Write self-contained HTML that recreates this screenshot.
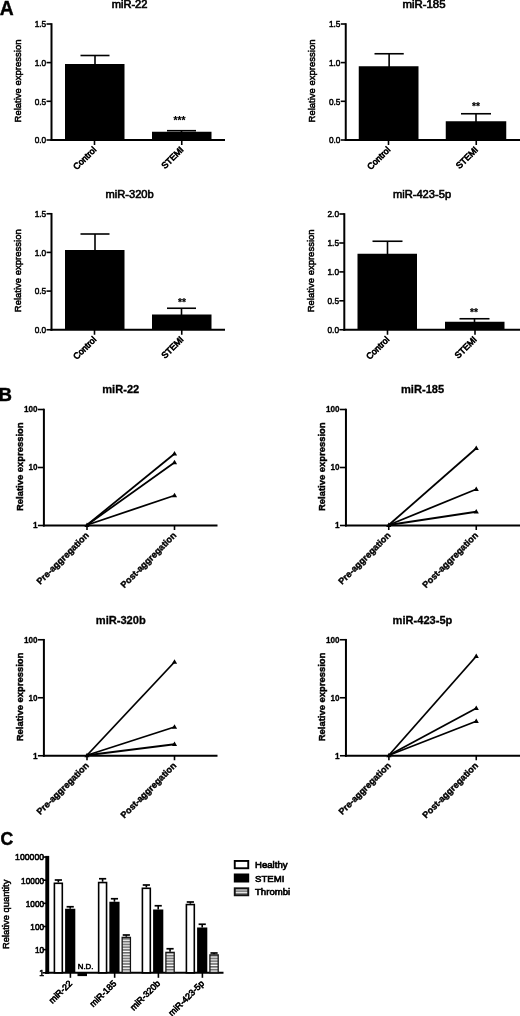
<!DOCTYPE html>
<html><head><meta charset="utf-8"><title>Figure</title>
<style>
html,body{margin:0;padding:0;background:#fff;}
svg{display:block;}
svg text{font-family:"Liberation Sans",sans-serif;fill:#000;}
</style></head><body>
<svg width="520" height="1016" viewBox="0 0 520 1016">
<rect width="520" height="1016" fill="#fff"/>
<line x1="51.5" y1="23.2" x2="51.5" y2="141" stroke="#000" stroke-width="2.0" />
<line x1="50.5" y1="140" x2="225" y2="140" stroke="#000" stroke-width="2.0" />
<line x1="46.5" y1="140" x2="51.5" y2="140" stroke="#000" stroke-width="1.6" />
<text x="46.2" y="143.2" font-size="9.3" text-anchor="end" stroke="#000" stroke-width="0.52" textLength="11.5" lengthAdjust="spacingAndGlyphs">0.0</text>
<line x1="46.5" y1="101.3" x2="51.5" y2="101.3" stroke="#000" stroke-width="1.6" />
<text x="46.2" y="104.5" font-size="9.3" text-anchor="end" stroke="#000" stroke-width="0.52" textLength="11.5" lengthAdjust="spacingAndGlyphs">0.5</text>
<line x1="46.5" y1="62.6" x2="51.5" y2="62.6" stroke="#000" stroke-width="1.6" />
<text x="46.2" y="65.8" font-size="9.3" text-anchor="end" stroke="#000" stroke-width="0.52" textLength="11.5" lengthAdjust="spacingAndGlyphs">1.0</text>
<line x1="46.5" y1="24" x2="51.5" y2="24" stroke="#000" stroke-width="1.6" />
<text x="46.2" y="27.2" font-size="9.3" text-anchor="end" stroke="#000" stroke-width="0.52" textLength="11.5" lengthAdjust="spacingAndGlyphs">1.5</text>
<text transform="translate(21.0,81.0) rotate(-90)" font-size="9.5" text-anchor="middle" stroke="#000" stroke-width="0.52" >Relative expression</text>
<text x="129.6" y="8" font-size="10.2" text-anchor="middle" stroke="#000" stroke-width="0.6" textLength="35.8" lengthAdjust="spacingAndGlyphs">miR-22</text>
<rect x="65" y="64" width="59.5" height="76" fill="#000"/>
<line x1="95.0" y1="55.5" x2="95.0" y2="65" stroke="#000" stroke-width="1.6" />
<line x1="80.5" y1="55.5" x2="109.5" y2="55.5" stroke="#000" stroke-width="1.6" />
<line x1="94.5" y1="140" x2="94.5" y2="145" stroke="#000" stroke-width="1.6" />
<text transform="translate(96.8,150.3) rotate(-45)" font-size="8.8" text-anchor="end" stroke="#000" stroke-width="0.7" >Control</text>
<rect x="152" y="131.75" width="59.5" height="8.25" fill="#000"/>
<line x1="181.5" y1="130.7" x2="181.5" y2="132.75" stroke="#000" stroke-width="1.6" />
<line x1="167" y1="130.7" x2="196" y2="130.7" stroke="#000" stroke-width="1.6" />
<line x1="181.75" y1="140" x2="181.75" y2="145" stroke="#000" stroke-width="1.6" />
<text transform="translate(184.05,150.3) rotate(-45)" font-size="8.8" text-anchor="end" stroke="#000" stroke-width="0.7" >STEMI</text>
<text x="179.5" y="124.3" font-size="10.2" text-anchor="middle" font-weight="bold" stroke="#000" stroke-width="0.2" >***</text>
<line x1="345.75" y1="23.2" x2="345.75" y2="141" stroke="#000" stroke-width="2.0" />
<line x1="344.75" y1="140" x2="520" y2="140" stroke="#000" stroke-width="2.0" />
<line x1="340.75" y1="140" x2="345.75" y2="140" stroke="#000" stroke-width="1.6" />
<text x="340.45" y="143.2" font-size="9.3" text-anchor="end" stroke="#000" stroke-width="0.52" textLength="11.5" lengthAdjust="spacingAndGlyphs">0.0</text>
<line x1="340.75" y1="101.3" x2="345.75" y2="101.3" stroke="#000" stroke-width="1.6" />
<text x="340.45" y="104.5" font-size="9.3" text-anchor="end" stroke="#000" stroke-width="0.52" textLength="11.5" lengthAdjust="spacingAndGlyphs">0.5</text>
<line x1="340.75" y1="62.6" x2="345.75" y2="62.6" stroke="#000" stroke-width="1.6" />
<text x="340.45" y="65.8" font-size="9.3" text-anchor="end" stroke="#000" stroke-width="0.52" textLength="11.5" lengthAdjust="spacingAndGlyphs">1.0</text>
<line x1="340.75" y1="24" x2="345.75" y2="24" stroke="#000" stroke-width="1.6" />
<text x="340.45" y="27.2" font-size="9.3" text-anchor="end" stroke="#000" stroke-width="0.52" textLength="11.5" lengthAdjust="spacingAndGlyphs">1.5</text>
<text transform="translate(315.25,81.0) rotate(-90)" font-size="9.5" text-anchor="middle" stroke="#000" stroke-width="0.52" >Relative expression</text>
<text x="424" y="8" font-size="10.2" text-anchor="middle" stroke="#000" stroke-width="0.6" textLength="43" lengthAdjust="spacingAndGlyphs">miR-185</text>
<rect x="358.75" y="66.25" width="59.75" height="73.75" fill="#000"/>
<line x1="389.125" y1="53.75" x2="389.125" y2="67.25" stroke="#000" stroke-width="1.6" />
<line x1="374.5" y1="53.75" x2="403.75" y2="53.75" stroke="#000" stroke-width="1.6" />
<line x1="388.5" y1="140" x2="388.5" y2="145" stroke="#000" stroke-width="1.6" />
<text transform="translate(390.8,150.3) rotate(-45)" font-size="8.8" text-anchor="end" stroke="#000" stroke-width="0.7" >Control</text>
<rect x="445.75" y="121.25" width="60.5" height="18.75" fill="#000"/>
<line x1="476.0" y1="113.75" x2="476.0" y2="122.25" stroke="#000" stroke-width="1.6" />
<line x1="461" y1="113.75" x2="491" y2="113.75" stroke="#000" stroke-width="1.6" />
<line x1="476.25" y1="140" x2="476.25" y2="145" stroke="#000" stroke-width="1.6" />
<text transform="translate(478.55,150.3) rotate(-45)" font-size="8.8" text-anchor="end" stroke="#000" stroke-width="0.7" >STEMI</text>
<text x="476" y="109.5" font-size="10.2" text-anchor="middle" font-weight="bold" stroke="#000" stroke-width="0.2" >**</text>
<line x1="51.5" y1="212.95" x2="51.5" y2="330.75" stroke="#000" stroke-width="2.0" />
<line x1="50.5" y1="329.75" x2="225" y2="329.75" stroke="#000" stroke-width="2.0" />
<line x1="46.5" y1="329.75" x2="51.5" y2="329.75" stroke="#000" stroke-width="1.6" />
<text x="46.2" y="332.95" font-size="9.3" text-anchor="end" stroke="#000" stroke-width="0.52" textLength="11.5" lengthAdjust="spacingAndGlyphs">0.0</text>
<line x1="46.5" y1="291.1" x2="51.5" y2="291.1" stroke="#000" stroke-width="1.6" />
<text x="46.2" y="294.3" font-size="9.3" text-anchor="end" stroke="#000" stroke-width="0.52" textLength="11.5" lengthAdjust="spacingAndGlyphs">0.5</text>
<line x1="46.5" y1="252.4" x2="51.5" y2="252.4" stroke="#000" stroke-width="1.6" />
<text x="46.2" y="255.6" font-size="9.3" text-anchor="end" stroke="#000" stroke-width="0.52" textLength="11.5" lengthAdjust="spacingAndGlyphs">1.0</text>
<line x1="46.5" y1="213.75" x2="51.5" y2="213.75" stroke="#000" stroke-width="1.6" />
<text x="46.2" y="216.95" font-size="9.3" text-anchor="end" stroke="#000" stroke-width="0.52" textLength="11.5" lengthAdjust="spacingAndGlyphs">1.5</text>
<text transform="translate(21.0,270.75) rotate(-90)" font-size="9.5" text-anchor="middle" stroke="#000" stroke-width="0.52" >Relative expression</text>
<text x="129.6" y="197.55" font-size="11.15" text-anchor="middle" stroke="#000" stroke-width="0.6" >miR-320b</text>
<rect x="65" y="250" width="59.5" height="79.75" fill="#000"/>
<line x1="95.0" y1="234" x2="95.0" y2="251" stroke="#000" stroke-width="1.6" />
<line x1="80.5" y1="234" x2="109.5" y2="234" stroke="#000" stroke-width="1.6" />
<line x1="94.5" y1="329.75" x2="94.5" y2="334.75" stroke="#000" stroke-width="1.6" />
<text transform="translate(96.8,340.05) rotate(-45)" font-size="8.8" text-anchor="end" stroke="#000" stroke-width="0.7" >Control</text>
<rect x="152" y="314.5" width="59.5" height="15.25" fill="#000"/>
<line x1="181.5" y1="308.25" x2="181.5" y2="315.5" stroke="#000" stroke-width="1.6" />
<line x1="167" y1="308.25" x2="196" y2="308.25" stroke="#000" stroke-width="1.6" />
<line x1="181.75" y1="329.75" x2="181.75" y2="334.75" stroke="#000" stroke-width="1.6" />
<text transform="translate(184.05,340.05) rotate(-45)" font-size="8.8" text-anchor="end" stroke="#000" stroke-width="0.7" >STEMI</text>
<text x="182" y="305.5" font-size="10.2" text-anchor="middle" font-weight="bold" stroke="#000" stroke-width="0.2" >**</text>
<line x1="344.3" y1="213.2" x2="344.3" y2="330.75" stroke="#000" stroke-width="2.0" />
<line x1="343.3" y1="329.75" x2="520" y2="329.75" stroke="#000" stroke-width="2.0" />
<line x1="339.3" y1="329.75" x2="344.3" y2="329.75" stroke="#000" stroke-width="1.6" />
<text x="339.0" y="332.95" font-size="9.3" text-anchor="end" stroke="#000" stroke-width="0.52" textLength="11.5" lengthAdjust="spacingAndGlyphs">0.0</text>
<line x1="339.3" y1="300.8" x2="344.3" y2="300.8" stroke="#000" stroke-width="1.6" />
<text x="339.0" y="304.0" font-size="9.3" text-anchor="end" stroke="#000" stroke-width="0.52" textLength="11.5" lengthAdjust="spacingAndGlyphs">0.5</text>
<line x1="339.3" y1="271.9" x2="344.3" y2="271.9" stroke="#000" stroke-width="1.6" />
<text x="339.0" y="275.09999999999997" font-size="9.3" text-anchor="end" stroke="#000" stroke-width="0.52" textLength="11.5" lengthAdjust="spacingAndGlyphs">1.0</text>
<line x1="339.3" y1="243" x2="344.3" y2="243" stroke="#000" stroke-width="1.6" />
<text x="339.0" y="246.2" font-size="9.3" text-anchor="end" stroke="#000" stroke-width="0.52" textLength="11.5" lengthAdjust="spacingAndGlyphs">1.5</text>
<line x1="339.3" y1="214" x2="344.3" y2="214" stroke="#000" stroke-width="1.6" />
<text x="339.0" y="217.2" font-size="9.3" text-anchor="end" stroke="#000" stroke-width="0.52" textLength="11.5" lengthAdjust="spacingAndGlyphs">2.0</text>
<text transform="translate(313.8,270.875) rotate(-90)" font-size="9.5" text-anchor="middle" stroke="#000" stroke-width="0.52" >Relative expression</text>
<text x="422" y="197.55" font-size="11.15" text-anchor="middle" stroke="#000" stroke-width="0.6" >miR-423-5p</text>
<rect x="357.5" y="253.75" width="59.5" height="76.0" fill="#000"/>
<line x1="387.5" y1="241.25" x2="387.5" y2="254.75" stroke="#000" stroke-width="1.6" />
<line x1="372.5" y1="241.25" x2="402.5" y2="241.25" stroke="#000" stroke-width="1.6" />
<line x1="387.5" y1="329.75" x2="387.5" y2="334.75" stroke="#000" stroke-width="1.6" />
<text transform="translate(389.8,340.05) rotate(-45)" font-size="8.8" text-anchor="end" stroke="#000" stroke-width="0.7" >Control</text>
<rect x="445" y="321.75" width="59.5" height="8.0" fill="#000"/>
<line x1="474.5" y1="318.75" x2="474.5" y2="322.75" stroke="#000" stroke-width="1.6" />
<line x1="459.5" y1="318.75" x2="489.5" y2="318.75" stroke="#000" stroke-width="1.6" />
<line x1="475" y1="329.75" x2="475" y2="334.75" stroke="#000" stroke-width="1.6" />
<text transform="translate(477.3,340.05) rotate(-45)" font-size="8.8" text-anchor="end" stroke="#000" stroke-width="0.7" >STEMI</text>
<text x="474" y="315.5" font-size="10.2" text-anchor="middle" font-weight="bold" stroke="#000" stroke-width="0.2" >**</text>
<line x1="43.9" y1="408.7" x2="43.9" y2="526.5" stroke="#000" stroke-width="2.0" />
<line x1="42.9" y1="525.5" x2="217.5" y2="525.5" stroke="#000" stroke-width="2.0" />
<line x1="37.9" y1="525.5" x2="43.9" y2="525.5" stroke="#000" stroke-width="1.6" />
<text x="37.6" y="528.4" font-size="9.6" text-anchor="end" font-weight="bold" stroke="#000" stroke-width="0.3" textLength="4.6" lengthAdjust="spacingAndGlyphs">1</text>
<line x1="37.9" y1="467.5" x2="43.9" y2="467.5" stroke="#000" stroke-width="1.6" />
<text x="37.6" y="470.4" font-size="9.6" text-anchor="end" font-weight="bold" stroke="#000" stroke-width="0.3" textLength="9.1" lengthAdjust="spacingAndGlyphs">10</text>
<line x1="37.9" y1="409.5" x2="43.9" y2="409.5" stroke="#000" stroke-width="1.6" />
<text x="37.6" y="412.4" font-size="9.6" text-anchor="end" font-weight="bold" stroke="#000" stroke-width="0.3" textLength="13.6" lengthAdjust="spacingAndGlyphs">100</text>
<text transform="translate(23.099999999999998,466.7) rotate(-90)" font-size="9.8" text-anchor="middle" font-weight="bold" stroke="#000" stroke-width="0.45" textLength="88.5" lengthAdjust="spacingAndGlyphs">Relative expression</text>
<text x="120.75" y="393.3" font-size="11.1" text-anchor="middle" font-weight="bold" stroke="#000" stroke-width="0.3" >miR-22</text>
<line x1="87" y1="525.5" x2="87" y2="530.0" stroke="#000" stroke-width="1.6" />
<text transform="translate(89.4,535.9) rotate(-45)" font-size="9.05" text-anchor="end" font-weight="bold" stroke="#000" stroke-width="0.42" >Pre-aggregation</text>
<line x1="174.5" y1="525.5" x2="174.5" y2="530.0" stroke="#000" stroke-width="1.6" />
<text transform="translate(176.9,535.9) rotate(-45)" font-size="9.05" text-anchor="end" font-weight="bold" stroke="#000" stroke-width="0.42" >Post-aggregation</text>
<line x1="87" y1="525.0" x2="174.5" y2="453.75" stroke="#000" stroke-width="1.8" />
<polygon points="171.9,455.55 177.1,455.55 174.5,450.95" fill="#000"/>
<line x1="87" y1="525.0" x2="174.5" y2="462.5" stroke="#000" stroke-width="1.8" />
<polygon points="171.9,464.3 177.1,464.3 174.5,459.7" fill="#000"/>
<line x1="87" y1="525.0" x2="174.5" y2="495.5" stroke="#000" stroke-width="1.8" />
<polygon points="171.9,497.3 177.1,497.3 174.5,492.7" fill="#000"/>
<polygon points="84.4,527.0 89.6,527.0 87,522.5" fill="#000"/>
<line x1="345.95" y1="408.7" x2="345.95" y2="526.5" stroke="#000" stroke-width="2.0" />
<line x1="344.95" y1="525.5" x2="520" y2="525.5" stroke="#000" stroke-width="2.0" />
<line x1="339.95" y1="525.5" x2="345.95" y2="525.5" stroke="#000" stroke-width="1.6" />
<text x="339.65" y="528.4" font-size="9.6" text-anchor="end" font-weight="bold" stroke="#000" stroke-width="0.3" textLength="4.6" lengthAdjust="spacingAndGlyphs">1</text>
<line x1="339.95" y1="467.5" x2="345.95" y2="467.5" stroke="#000" stroke-width="1.6" />
<text x="339.65" y="470.4" font-size="9.6" text-anchor="end" font-weight="bold" stroke="#000" stroke-width="0.3" textLength="9.1" lengthAdjust="spacingAndGlyphs">10</text>
<line x1="339.95" y1="409.5" x2="345.95" y2="409.5" stroke="#000" stroke-width="1.6" />
<text x="339.65" y="412.4" font-size="9.6" text-anchor="end" font-weight="bold" stroke="#000" stroke-width="0.3" textLength="13.6" lengthAdjust="spacingAndGlyphs">100</text>
<text transform="translate(325.15,466.7) rotate(-90)" font-size="9.8" text-anchor="middle" font-weight="bold" stroke="#000" stroke-width="0.45" textLength="88.5" lengthAdjust="spacingAndGlyphs">Relative expression</text>
<text x="422.6" y="393.3" font-size="11.1" text-anchor="middle" font-weight="bold" stroke="#000" stroke-width="0.3" >miR-185</text>
<line x1="388.75" y1="525.5" x2="388.75" y2="530.0" stroke="#000" stroke-width="1.6" />
<text transform="translate(391.15,535.9) rotate(-45)" font-size="9.05" text-anchor="end" font-weight="bold" stroke="#000" stroke-width="0.42" >Pre-aggregation</text>
<line x1="476.25" y1="525.5" x2="476.25" y2="530.0" stroke="#000" stroke-width="1.6" />
<text transform="translate(478.65,535.9) rotate(-45)" font-size="9.05" text-anchor="end" font-weight="bold" stroke="#000" stroke-width="0.42" >Post-aggregation</text>
<line x1="388.75" y1="525.0" x2="476.25" y2="448.25" stroke="#000" stroke-width="1.8" />
<polygon points="473.65,450.05 478.85,450.05 476.25,445.45" fill="#000"/>
<line x1="388.75" y1="525.0" x2="476.25" y2="489.25" stroke="#000" stroke-width="1.8" />
<polygon points="473.65,491.05 478.85,491.05 476.25,486.45" fill="#000"/>
<line x1="388.75" y1="525.0" x2="476.25" y2="511.75" stroke="#000" stroke-width="1.8" />
<polygon points="473.65,513.55 478.85,513.55 476.25,508.95" fill="#000"/>
<polygon points="386.15,527.0 391.35,527.0 388.75,522.5" fill="#000"/>
<line x1="43.9" y1="638.95" x2="43.9" y2="756.75" stroke="#000" stroke-width="2.0" />
<line x1="42.9" y1="755.75" x2="217.5" y2="755.75" stroke="#000" stroke-width="2.0" />
<line x1="37.9" y1="755.75" x2="43.9" y2="755.75" stroke="#000" stroke-width="1.6" />
<text x="37.6" y="758.65" font-size="9.6" text-anchor="end" font-weight="bold" stroke="#000" stroke-width="0.3" textLength="4.6" lengthAdjust="spacingAndGlyphs">1</text>
<line x1="37.9" y1="697.75" x2="43.9" y2="697.75" stroke="#000" stroke-width="1.6" />
<text x="37.6" y="700.65" font-size="9.6" text-anchor="end" font-weight="bold" stroke="#000" stroke-width="0.3" textLength="9.1" lengthAdjust="spacingAndGlyphs">10</text>
<line x1="37.9" y1="639.75" x2="43.9" y2="639.75" stroke="#000" stroke-width="1.6" />
<text x="37.6" y="642.65" font-size="9.6" text-anchor="end" font-weight="bold" stroke="#000" stroke-width="0.3" textLength="13.6" lengthAdjust="spacingAndGlyphs">100</text>
<text transform="translate(23.099999999999998,696.95) rotate(-90)" font-size="9.8" text-anchor="middle" font-weight="bold" stroke="#000" stroke-width="0.45" textLength="88.5" lengthAdjust="spacingAndGlyphs">Relative expression</text>
<text x="120.75" y="624.35" font-size="11.1" text-anchor="middle" font-weight="bold" stroke="#000" stroke-width="0.3" >miR-320b</text>
<line x1="87" y1="755.75" x2="87" y2="760.25" stroke="#000" stroke-width="1.6" />
<text transform="translate(89.4,766.15) rotate(-45)" font-size="9.05" text-anchor="end" font-weight="bold" stroke="#000" stroke-width="0.42" >Pre-aggregation</text>
<line x1="174.5" y1="755.75" x2="174.5" y2="760.25" stroke="#000" stroke-width="1.6" />
<text transform="translate(176.9,766.15) rotate(-45)" font-size="9.05" text-anchor="end" font-weight="bold" stroke="#000" stroke-width="0.42" >Post-aggregation</text>
<line x1="87" y1="755.25" x2="174.5" y2="662" stroke="#000" stroke-width="1.8" />
<polygon points="171.9,663.8 177.1,663.8 174.5,659.2" fill="#000"/>
<line x1="87" y1="755.25" x2="174.5" y2="727" stroke="#000" stroke-width="1.8" />
<polygon points="171.9,728.8 177.1,728.8 174.5,724.2" fill="#000"/>
<line x1="87" y1="755.25" x2="174.5" y2="744.25" stroke="#000" stroke-width="1.8" />
<polygon points="171.9,746.05 177.1,746.05 174.5,741.45" fill="#000"/>
<polygon points="84.4,757.25 89.6,757.25 87,752.75" fill="#000"/>
<line x1="345.95" y1="638.95" x2="345.95" y2="756.75" stroke="#000" stroke-width="2.0" />
<line x1="344.95" y1="755.75" x2="520" y2="755.75" stroke="#000" stroke-width="2.0" />
<line x1="339.95" y1="755.75" x2="345.95" y2="755.75" stroke="#000" stroke-width="1.6" />
<text x="339.65" y="758.65" font-size="9.6" text-anchor="end" font-weight="bold" stroke="#000" stroke-width="0.3" textLength="4.6" lengthAdjust="spacingAndGlyphs">1</text>
<line x1="339.95" y1="697.75" x2="345.95" y2="697.75" stroke="#000" stroke-width="1.6" />
<text x="339.65" y="700.65" font-size="9.6" text-anchor="end" font-weight="bold" stroke="#000" stroke-width="0.3" textLength="9.1" lengthAdjust="spacingAndGlyphs">10</text>
<line x1="339.95" y1="639.75" x2="345.95" y2="639.75" stroke="#000" stroke-width="1.6" />
<text x="339.65" y="642.65" font-size="9.6" text-anchor="end" font-weight="bold" stroke="#000" stroke-width="0.3" textLength="13.6" lengthAdjust="spacingAndGlyphs">100</text>
<text transform="translate(325.15,696.95) rotate(-90)" font-size="9.8" text-anchor="middle" font-weight="bold" stroke="#000" stroke-width="0.45" textLength="88.5" lengthAdjust="spacingAndGlyphs">Relative expression</text>
<text x="422.5" y="624.35" font-size="11.1" text-anchor="middle" font-weight="bold" stroke="#000" stroke-width="0.3" >miR-423-5p</text>
<line x1="388.9" y1="755.75" x2="388.9" y2="760.25" stroke="#000" stroke-width="1.6" />
<text transform="translate(391.29999999999995,766.15) rotate(-45)" font-size="9.05" text-anchor="end" font-weight="bold" stroke="#000" stroke-width="0.42" >Pre-aggregation</text>
<line x1="476.25" y1="755.75" x2="476.25" y2="760.25" stroke="#000" stroke-width="1.6" />
<text transform="translate(478.65,766.15) rotate(-45)" font-size="9.05" text-anchor="end" font-weight="bold" stroke="#000" stroke-width="0.42" >Post-aggregation</text>
<line x1="388.9" y1="755.25" x2="476.25" y2="656.25" stroke="#000" stroke-width="1.8" />
<polygon points="473.65,658.05 478.85,658.05 476.25,653.45" fill="#000"/>
<line x1="388.9" y1="755.25" x2="476.25" y2="708.25" stroke="#000" stroke-width="1.8" />
<polygon points="473.65,710.05 478.85,710.05 476.25,705.45" fill="#000"/>
<line x1="388.9" y1="755.25" x2="476.25" y2="721.25" stroke="#000" stroke-width="1.8" />
<polygon points="473.65,723.05 478.85,723.05 476.25,718.45" fill="#000"/>
<polygon points="386.29999999999995,757.25 391.5,757.25 388.9,752.75" fill="#000"/>
<rect x="45.3" y="855.9" width="3.9" height="117.89999999999998" fill="#000"/>
<line x1="45" y1="972.8" x2="223.5" y2="972.8" stroke="#000" stroke-width="2.0" />
<line x1="42.5" y1="972.8" x2="47" y2="972.8" stroke="#000" stroke-width="1.6" />
<text x="44.1" y="976.1999999999999" font-size="9.6" text-anchor="end" stroke="#000" stroke-width="0.6" textLength="4.8" lengthAdjust="spacingAndGlyphs">1</text>
<line x1="42.5" y1="949.65" x2="47" y2="949.65" stroke="#000" stroke-width="1.6" />
<text x="44.1" y="953.05" font-size="9.6" text-anchor="end" stroke="#000" stroke-width="0.6" textLength="9.2" lengthAdjust="spacingAndGlyphs">10</text>
<line x1="42.5" y1="926.5" x2="47" y2="926.5" stroke="#000" stroke-width="1.6" />
<text x="44.1" y="929.9" font-size="9.6" text-anchor="end" stroke="#000" stroke-width="0.6" textLength="13.8" lengthAdjust="spacingAndGlyphs">100</text>
<line x1="42.5" y1="903.3499999999999" x2="47" y2="903.3499999999999" stroke="#000" stroke-width="1.6" />
<text x="44.1" y="906.7499999999999" font-size="9.6" text-anchor="end" stroke="#000" stroke-width="0.6" textLength="18.4" lengthAdjust="spacingAndGlyphs">1000</text>
<line x1="42.5" y1="880.1999999999999" x2="47" y2="880.1999999999999" stroke="#000" stroke-width="1.6" />
<text x="44.1" y="883.5999999999999" font-size="9.6" text-anchor="end" stroke="#000" stroke-width="0.6" textLength="23" lengthAdjust="spacingAndGlyphs">10000</text>
<line x1="42.5" y1="857.05" x2="47" y2="857.05" stroke="#000" stroke-width="1.6" />
<text x="44.1" y="860.4499999999999" font-size="9.6" text-anchor="end" stroke="#000" stroke-width="0.6" textLength="29" lengthAdjust="spacingAndGlyphs">100000</text>
<text transform="translate(8.6,914.3) rotate(-90)" font-size="9.4" text-anchor="middle" stroke="#000" stroke-width="0.52" >Relative quantity</text>
<defs><pattern id="hs" width="4" height="2.8" patternUnits="userSpaceOnUse"><rect width="4" height="2.8" fill="#fff"/><rect y="0" width="4" height="1.6" fill="#6a6a6a"/></pattern></defs>
<line x1="70.4" y1="972.8" x2="70.4" y2="977.8" stroke="#000" stroke-width="1.6" />
<text transform="translate(72.6,984.0) rotate(-45)" font-size="8.8" text-anchor="end" stroke="#000" stroke-width="0.65" >miR-22</text>
<line x1="58.35" y1="880" x2="58.35" y2="882.5" stroke="#000" stroke-width="1.6" />
<line x1="54.75" y1="880" x2="61.95" y2="880" stroke="#000" stroke-width="1.7" />
<rect x="54.4" y="883.3" width="7.9" height="89.49999999999996" fill="#fff" stroke="#000" stroke-width="1.6"/>
<line x1="70.19999999999999" y1="906.75" x2="70.19999999999999" y2="908.75" stroke="#000" stroke-width="1.6" />
<line x1="66.6" y1="906.75" x2="73.79999999999998" y2="906.75" stroke="#000" stroke-width="1.7" />
<rect x="65.1" y="908.75" width="10.2" height="64.04999999999995" fill="#000"/>
<line x1="114.65" y1="972.8" x2="114.65" y2="977.8" stroke="#000" stroke-width="1.6" />
<text transform="translate(116.85,984.0) rotate(-45)" font-size="8.8" text-anchor="end" stroke="#000" stroke-width="0.65" >miR-185</text>
<line x1="102.6" y1="878.75" x2="102.6" y2="881.75" stroke="#000" stroke-width="1.6" />
<line x1="99.0" y1="878.75" x2="106.19999999999999" y2="878.75" stroke="#000" stroke-width="1.7" />
<rect x="98.64999999999999" y="882.55" width="7.9" height="90.24999999999996" fill="#fff" stroke="#000" stroke-width="1.6"/>
<line x1="114.44999999999999" y1="898.75" x2="114.44999999999999" y2="901.75" stroke="#000" stroke-width="1.6" />
<line x1="110.85" y1="898.75" x2="118.04999999999998" y2="898.75" stroke="#000" stroke-width="1.7" />
<rect x="109.35" y="901.75" width="10.2" height="71.04999999999995" fill="#000"/>
<line x1="126.3" y1="935" x2="126.3" y2="936.75" stroke="#000" stroke-width="1.6" />
<line x1="122.7" y1="935" x2="129.9" y2="935" stroke="#000" stroke-width="1.7" />
<rect x="122.14999999999999" y="937.35" width="8.3" height="35.44999999999995" fill="url(#hs)" stroke="#111" stroke-width="1.25"/>
<line x1="158.4" y1="972.8" x2="158.4" y2="977.8" stroke="#000" stroke-width="1.6" />
<text transform="translate(160.6,984.0) rotate(-45)" font-size="8.8" text-anchor="end" stroke="#000" stroke-width="0.65" >miR-320b</text>
<line x1="146.35" y1="885" x2="146.35" y2="887.5" stroke="#000" stroke-width="1.6" />
<line x1="142.75" y1="885" x2="149.95" y2="885" stroke="#000" stroke-width="1.7" />
<rect x="142.4" y="888.3" width="7.9" height="84.49999999999996" fill="#fff" stroke="#000" stroke-width="1.6"/>
<line x1="158.2" y1="905.75" x2="158.2" y2="909.5" stroke="#000" stroke-width="1.6" />
<line x1="154.6" y1="905.75" x2="161.79999999999998" y2="905.75" stroke="#000" stroke-width="1.7" />
<rect x="153.1" y="909.5" width="10.2" height="63.299999999999955" fill="#000"/>
<line x1="170.04999999999998" y1="948.75" x2="170.04999999999998" y2="951.75" stroke="#000" stroke-width="1.6" />
<line x1="166.45" y1="948.75" x2="173.64999999999998" y2="948.75" stroke="#000" stroke-width="1.7" />
<rect x="165.89999999999998" y="952.35" width="8.3" height="20.449999999999953" fill="url(#hs)" stroke="#111" stroke-width="1.25"/>
<line x1="202.4" y1="972.8" x2="202.4" y2="977.8" stroke="#000" stroke-width="1.6" />
<text transform="translate(204.6,984.0) rotate(-45)" font-size="8.8" text-anchor="end" stroke="#000" stroke-width="0.65" >miR-423-5p</text>
<line x1="190.35" y1="902" x2="190.35" y2="903.75" stroke="#000" stroke-width="1.6" />
<line x1="186.75" y1="902" x2="193.95" y2="902" stroke="#000" stroke-width="1.7" />
<rect x="186.4" y="904.55" width="7.9" height="68.24999999999996" fill="#fff" stroke="#000" stroke-width="1.6"/>
<line x1="202.2" y1="924.25" x2="202.2" y2="927.5" stroke="#000" stroke-width="1.6" />
<line x1="198.6" y1="924.25" x2="205.79999999999998" y2="924.25" stroke="#000" stroke-width="1.7" />
<rect x="197.1" y="927.5" width="10.2" height="45.299999999999955" fill="#000"/>
<line x1="214.04999999999998" y1="953" x2="214.04999999999998" y2="954.25" stroke="#000" stroke-width="1.6" />
<line x1="210.45" y1="953" x2="217.64999999999998" y2="953" stroke="#000" stroke-width="1.7" />
<rect x="209.89999999999998" y="954.85" width="8.3" height="17.949999999999953" fill="url(#hs)" stroke="#111" stroke-width="1.25"/>
<rect x="77.5" y="972.8" width="9.5" height="3.3" fill="#000"/>
<text x="85.6" y="969" font-size="7.9" text-anchor="middle" stroke="#000" stroke-width="0.52" >N.D.</text>
<rect x="234.75" y="860.95" width="13.5" height="7.3" fill="#fff" stroke="#000" stroke-width="1.9"/>
<rect x="233.8" y="873.5" width="15.4" height="9.0" fill="#000"/>
<rect x="234.75" y="888.3" width="13.5" height="7.0" fill="url(#hs)" stroke="#111" stroke-width="1.9"/>
<text x="255" y="868.3" font-size="9.6" text-anchor="start" stroke="#000" stroke-width="0.65" >Healthy</text>
<text x="255" y="881.5" font-size="9.6" text-anchor="start" stroke="#000" stroke-width="0.65" >STEMI</text>
<text x="255" y="895.3" font-size="9.6" text-anchor="start" stroke="#000" stroke-width="0.65" >Thrombi</text>
<text x="-0.2" y="15.1" font-size="19.3" text-anchor="start" font-weight="bold" stroke="#000" stroke-width="0.4" >A</text>
<text x="-1.6" y="401.1" font-size="18.6" text-anchor="start" font-weight="bold" stroke="#000" stroke-width="0.5" >B</text>
<text x="0.5" y="844.9" font-size="17.6" text-anchor="start" font-weight="bold" stroke="#000" stroke-width="0.5" >C</text>
</svg>
</body></html>
